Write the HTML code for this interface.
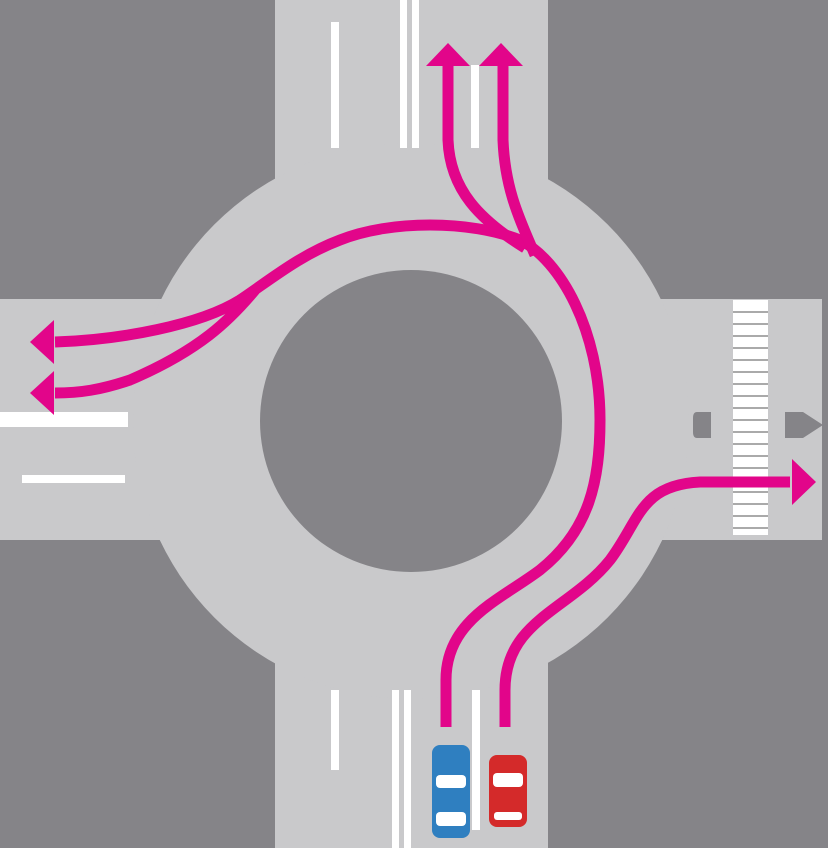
<!DOCTYPE html>
<html><head><style>html,body{margin:0;padding:0;background:#858488;}svg{display:block}</style></head>
<body>
<svg width="828" height="848" viewBox="0 0 828 848" xmlns="http://www.w3.org/2000/svg">
<rect width="828" height="848" fill="#858488"/>
<g fill="#c9c9cb">
<rect x="275" y="0" width="273" height="848"/>
<rect x="0" y="299" width="822" height="241"/>
<circle cx="411" cy="421" r="278"/>
</g>
<circle cx="411" cy="421" r="151" fill="#858488"/>
<g fill="#fff">
<rect x="331" y="22" width="8" height="126"/>
<rect x="400" y="0" width="7" height="148"/>
<rect x="412" y="0" width="7" height="148"/>
<rect x="471" y="65" width="8" height="83"/>
<rect x="331" y="690" width="8" height="80"/>
<rect x="392" y="690" width="7" height="158"/>
<rect x="404" y="690" width="7" height="158"/>
<rect x="472" y="690" width="8" height="140"/>
<rect x="0" y="412" width="128" height="15"/>
<rect x="22" y="475" width="103" height="8"/>
<rect x="733" y="300" width="35" height="235"/>
</g>
<g stroke="#555" stroke-width="1">
<path d="M733 312H768M733 324H768M733 336H768M733 348H768M733 360H768M733 372H768M733 384H768M733 396H768M733 408H768M733 420H768M733 432H768M733 444H768M733 456H768M733 468H768M733 480H768M733 492H768M733 504H768M733 516H768M733 528H768"/>
</g>
<path d="M697 412h14v26h-14q-4 0-4-6v-14q0-6 4-6z" fill="#858488"/>
<path d="M785 412h18l20 13l-20 13h-18z" fill="#858488"/>
<g fill="none" stroke="#e2058a" stroke-width="11" stroke-linecap="butt">
<path d="M446 727 L446 680 C446 620 500 600 540 570 C590 530 600 480 600 420 C600 330 560 260 520 240 C470 220 390 220 340 240 C300 255 270 280 240 300 C200 325 120 340 55 342"/>
<path d="M255 290 C230 320 200 350 130 380 C100 390 80 393 55 393"/>
<path d="M448 62 L448 140 C450 190 480 220 525 248"/>
<path d="M503 62 L503 140 C505 190 520 220 535 255"/>
<path d="M505 727 L505 690 C505 620 570 610 610 560 C640 520 640 485 700 482 L790 482"/>
</g>
<g fill="#e2058a">
<polygon points="448,43 426,66 470,66"/>
<polygon points="501,43 479,66 523,66"/>
<polygon points="30,342 54,320 54,364"/>
<polygon points="30,393 54,371 54,415"/>
<polygon points="816,482 792,459 792,505"/>
</g>
<g>
<rect x="432" y="745" width="38" height="93" rx="8" fill="#2f7fc0"/>
<rect x="436" y="775" width="30" height="13" rx="4" fill="#fff"/>
<rect x="436" y="812" width="30" height="14" rx="4" fill="#fff"/>
<rect x="489" y="755" width="38" height="72" rx="8" fill="#d42a2a"/>
<rect x="493" y="773" width="30" height="14" rx="4" fill="#fff"/>
<rect x="494" y="812" width="28" height="8" rx="3" fill="#fff"/>
</g>
</svg>
</body></html>
